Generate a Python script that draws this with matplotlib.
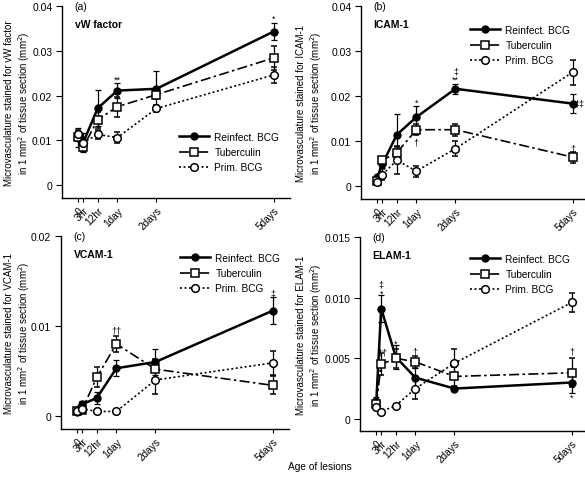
import matplotlib
matplotlib.use("Agg")
import matplotlib.pyplot as plt
from matplotlib.lines import Line2D

plt.rcParams['font.family'] = ['Liberation Sans', 'DejaVu Sans']

# x positions (hours) and tick labels
hours = [0, 3, 12, 24, 48, 120]
xlabels = ['0', '3hr', '12hr', '1day', '2days', '5days']
series_names = ['Reinfect. BCG', 'Tuberculin', 'Prim. BCG']

# Panel (a) vW factor
vw_reinf = [0.0106, 0.0095, 0.0172, 0.0211, 0.0215, 0.0343]
vw_reinf_err = [0.0022, 0.0022, 0.0040, 0.0017, 0.0040, 0.0020]
vw_tub = [0.0108, 0.0085, 0.0146, 0.0175, 0.0202, 0.0284]
vw_tub_err = [0.0010, 0.0008, 0.0018, 0.0022, 0.0010, 0.0026]
vw_prim = [0.0113, 0.0095, 0.0113, 0.0106, 0.0171, 0.0246]
vw_prim_err = [0.0010, 0.0010, 0.0010, 0.0012, 0.0007, 0.0018]

# Panel (b) ICAM-1
ic_reinf = [0.0019, 0.0048, 0.0114, 0.0153, 0.0216, 0.0183]
ic_reinf_err = [0.0004, 0.0008, 0.0045, 0.0025, 0.0011, 0.0021]
ic_tub = [0.0011, 0.0057, 0.0074, 0.0125, 0.0125, 0.0064]
ic_tub_err = [0.0003, 0.0008, 0.0015, 0.0012, 0.0013, 0.0012]
ic_prim = [0.0009, 0.0025, 0.0057, 0.0033, 0.0083, 0.0253]
ic_prim_err = [0.0003, 0.0012, 0.0030, 0.0012, 0.0017, 0.0028]

# Panel (c) VCAM-1
vc_reinf = [0.00044, 0.0013, 0.0020, 0.0053, 0.0060, 0.0117]
vc_reinf_err = [0.0002, 0.0004, 0.0007, 0.0009, 0.0014, 0.0015]
vc_tub = [0.0005, 0.0007, 0.0043, 0.0080, 0.0052, 0.0034]
vc_tub_err = [0.0002, 0.0003, 0.0011, 0.0009, 0.0011, 0.0010]
vc_prim = [0.0006, 0.0008, 0.0005, 0.0005, 0.0040, 0.0059]
vc_prim_err = [0.0002, 0.0002, 0.0001, 0.0001, 0.0016, 0.0013]

# Panel (d) ELAM-1
el_reinf = [0.0014, 0.0091, 0.0051, 0.0034, 0.0025, 0.0030]
el_reinf_err = [0.0004, 0.0011, 0.0010, 0.0008, 0.0002, 0.0009]
el_tub = [0.0012, 0.0045, 0.0050, 0.0047, 0.0035, 0.0038]
el_tub_err = [0.0004, 0.0009, 0.0008, 0.0005, 0.0008, 0.0012]
el_prim = [0.0010, 0.0006, 0.0011, 0.0025, 0.0046, 0.0096]
el_prim_err = [0.0003, 0.0001, 0.0001, 0.0009, 0.0012, 0.0008]

panels = [
    dict(tag='(a)', name='vW factor', ylab='vW factor',
         data=[(vw_reinf, vw_reinf_err), (vw_tub, vw_tub_err), (vw_prim, vw_prim_err)],
         yticks=[0, 0.01, 0.02, 0.03, 0.04], yticklabels=['0', '0.01', '0.02', '0.03', '0.04'],
         ylim=(-0.0029, 0.04),
         notes=[(120, 0.0372, '*'), (24, 0.0236, '**')]),
    dict(tag='(b)', name='ICAM-1', ylab='ICAM-1',
         data=[(ic_reinf, ic_reinf_err), (ic_tub, ic_tub_err), (ic_prim, ic_prim_err)],
         yticks=[0, 0.01, 0.02, 0.03, 0.04], yticklabels=['0', '0.01', '0.02', '0.03', '0.04'],
         ylim=(-0.0029, 0.04),
         notes=[(24, 0.0186, '*'), (48, 0.0237, '**'), (48, 0.0256, '\u2021'),
                (124, 0.0184, '\u2021\u2021'), (24, 0.0098, '\u2020'), (120, 0.0084, '\u2020')]),
    dict(tag='(c)', name='VCAM-1', ylab='VCAM-1',
         data=[(vc_reinf, vc_reinf_err), (vc_tub, vc_tub_err), (vc_prim, vc_prim_err)],
         yticks=[0, 0.01, 0.02], yticklabels=['0', '0.01', '0.02'],
         ylim=(-0.00145, 0.02),
         notes=[(120, 0.0137, '\u2021'), (24, 0.0095, '\u2020\u2020')]),
    dict(tag='(d)', name='ELAM-1', ylab='ELAM-1',
         data=[(el_reinf, el_reinf_err), (el_tub, el_tub_err), (el_prim, el_prim_err)],
         yticks=[0, 0.005, 0.010, 0.015], yticklabels=['0', '0.005', '0.010', '0.015'],
         ylim=(-0.001, 0.015),
         notes=[(3, 0.0111, '\u2021'), (3, 0.0104, '*'), (3.5, 0.0055, '\u2020\u2020'),
                (12, 0.0062, '*'), (24, 0.0056, '\u2020'), (120, 0.0056, '\u2020'),
                (120, 0.0018, '*')]),
]

styles = [
    dict(color='black', linestyle='-', linewidth=1.8, marker='o', markersize=5,
         markerfacecolor='black', markeredgecolor='black'),
    dict(color='black', linestyle=(0, (6, 2, 1.5, 2)), linewidth=1.2, marker='s', markersize=5.5,
         markerfacecolor='white', markeredgecolor='black', markeredgewidth=1.1),
    dict(color='black', linestyle=(0, (1.2, 1.5)), linewidth=1.2, marker='o', markersize=5.5,
         markerfacecolor='white', markeredgecolor='black', markeredgewidth=1.1),
]

W, H = 585, 481
fig = plt.figure(figsize=(W / 100, H / 100), dpi=100)

# pixel boxes: left, right, top, bottom
boxes = [(62, 290, 7, 199), (361, 589, 7, 200), (61, 289, 237, 430), (360, 588, 238, 432)]
# legend upper-left corner in pixels
legend_px = [(179, 133), (470, 26), (180, 254), (470, 255)]
ylabel_x = [18, 310, 18, 310]

for p, box, lpx, ylx in zip(panels, boxes, legend_px, ylabel_x):
    l, r, t, b = box
    ax = fig.add_axes([l / W, 1 - b / H, (r - l) / W, (b - t) / H])
    handles = []
    for (vals, errs), st, nm in zip(p['data'], styles, series_names):
        ax.errorbar(hours, vals, yerr=errs, capsize=2.5, elinewidth=0.9,
                    capthick=0.9, ecolor='black', **st)
        handles.append(Line2D([], [], label=nm, **st))
    for x, y, s in p['notes']:
        ax.text(x, y, s, ha='center', va='center', fontsize=6.5)
    ax.set_xlim(-10, 130)
    ax.set_ylim(*p['ylim'])
    ax.set_yticks(p['yticks'])
    ax.set_yticklabels(p['yticklabels'], fontsize=7.5)
    ax.set_xticks(hours)
    ax.set_xticklabels(xlabels, rotation=45, ha='right', va='top', fontsize=7.3,
                       rotation_mode='anchor')
    ax.tick_params(axis='x', length=3, width=0.8, pad=2)
    ax.tick_params(axis='y', length=4, width=0.8, pad=3)
    for s in ['top', 'right']:
        ax.spines[s].set_visible(False)
    for s in ['left', 'bottom']:
        ax.spines[s].set_linewidth(1.0)
    ax.text(0.055, 1.0, p['tag'], transform=ax.transAxes, fontsize=7.5, va='center')
    ax.text(0.055, 0.905, p['name'], transform=ax.transAxes, fontsize=7.5,
            fontweight='bold', va='center')
    fig.text(ylx / W, 1 - ((t + b) / 2) / H,
             'Microvasculature stained for ' + p['ylab'] +
             '\nin 1 mm$^2$ of tissue section (mm$^2$)', fontsize=7, rotation=90,
             ha='center', va='center', linespacing=1.15)
    ax.legend(handles=handles, loc='upper left',
              bbox_to_anchor=(lpx[0] / W, 1 - lpx[1] / H), bbox_transform=fig.transFigure,
              frameon=False, fontsize=7.3, handlelength=3.0, handletextpad=0.5,
              labelspacing=0.5, borderaxespad=0, borderpad=0)

fig.text(320 / W, 1 - 467 / H, 'Age of lesions', ha='center', va='center', fontsize=7.3)

fig.savefig('out.png', dpi=100)
